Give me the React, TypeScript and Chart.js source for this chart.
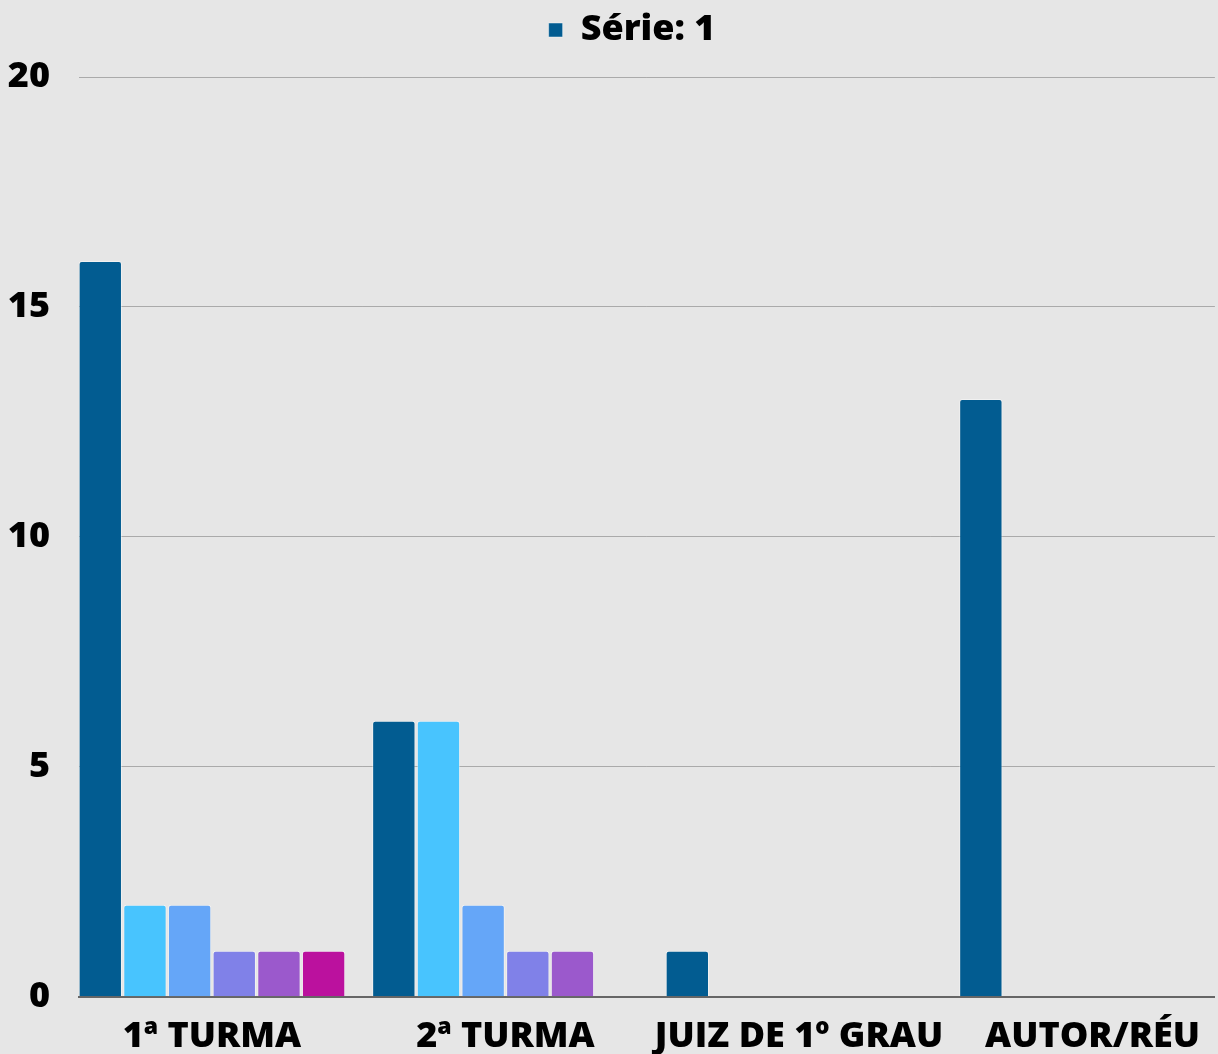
import React, { useEffect, useRef } from "react";
import { Chart, registerables } from "chart.js";

Chart.register(...registerables);

const categories = ["1ª TURMA", "2ª TURMA", "JUIZ DE 1º GRAU", "AUTOR/RÉU"];
const seriesLabels = ["Série: 1", "Série: 2", "Série: 3", "Série: 4", "Série: 5", "Série: 6"];
const series1 = [16, 6, 1, 13];
const series2 = [2, 6, null, null];
const series3 = [2, 2, null, null];
const series4 = [1, 1, null, null];
const series5 = [1, 1, null, null];
const series6 = [1, null, null, null];
const seriesColors = ["#025c91", "#48c4fe", "#65a6f8", "#8081e8", "#9b59cc", "#bb119e"];
const yTicks = [0, 5, 10, 15, 20];

const FONT = "'Open Sans', 'DejaVu Sans', sans-serif";
const WEIGHT = 800;

const legendShift = {
  id: "legendShift",
  afterLayout(chart: any) {
    if (chart.legend) {
      chart.legend.left += 46;
    }
  },
};

export default function App() {
  const ref = useRef<HTMLCanvasElement | null>(null);

  useEffect(() => {
    document.body.style.margin = "0";
    const canvas = ref.current;
    if (!canvas) return;
    const all = [series1, series2, series3, series4, series5, series6];
    const chart = new Chart(canvas, {
      type: "bar",
      data: {
        datasets: all.map((s, k) => ({
          label: seriesLabels[k],
          data: s.map((v, i) => ({ x: i, y: v })),
          backgroundColor: seriesColors[k],
          borderColor: "rgba(255,255,255,0.45)",
          borderWidth: 1,
          borderRadius: 3,
          borderSkipped: "start",
          categoryPercentage: 0.913,
          barPercentage: 0.97,
        })),
      },
      plugins: [legendShift],
      options: {
        animation: false,
        responsive: false,
        maintainAspectRatio: false,
        layout: { padding: { left: 0, right: 0, top: 2, bottom: -22 } },
        plugins: {
          tooltip: { enabled: false },
          title: {
            display: true,
            text: "",
            weight: 500,
            padding: 0,
            font: { size: 19, lineHeight: 1 },
          },
          legend: {
            display: true,
            position: "top",
            weight: 3000,
            labels: {
              filter: (item: any) => item.datasetIndex === 0,
              boxWidth: 14,
              boxHeight: 14,
              color: "#000",
              padding: 10,
              font: { family: FONT, size: 36, weight: WEIGHT },
            },
          },
        },
        scales: {
          x: {
            type: "linear",
            min: -0.453,
            max: 3.417,
            offset: false,
            grid: { display: false, drawTicks: false },
            border: { display: true, color: "#666", width: 2 },
            afterBuildTicks: (scale: any) => {
              scale.ticks = categories.map((_, i) => ({ value: i }));
            },
            ticks: {
              autoSkip: false,
              maxRotation: 0,
              minRotation: 0,
              padding: 18,
              color: "#000",
              font: { family: FONT, size: 36, weight: WEIGHT },
              callback: (v: any) => (Number.isInteger(v) ? categories[v] : ""),
            },
          },
          y: {
            min: 0,
            max: 20,
            afterBuildTicks: (scale: any) => {
              scale.ticks = yTicks.map((v) => ({ value: v }));
            },
            afterFit: (scale: any) => {
              scale.width = 79;
            },
            grid: { color: "#aaa", lineWidth: 1, drawTicks: false },
            border: { display: false },
            ticks: {
              padding: 29,
              color: "#000",
              font: { family: FONT, size: 36, weight: WEIGHT },
            },
          },
        },
      },
    } as any);
    return () => chart.destroy();
  }, []);

  return (
    <div style={{ width: 1218, height: 1054, background: "#e6e6e6", overflow: "hidden" }}>
      <canvas ref={ref} width={1218} height={1054} style={{ display: "block" }} />
    </div>
  );
}
